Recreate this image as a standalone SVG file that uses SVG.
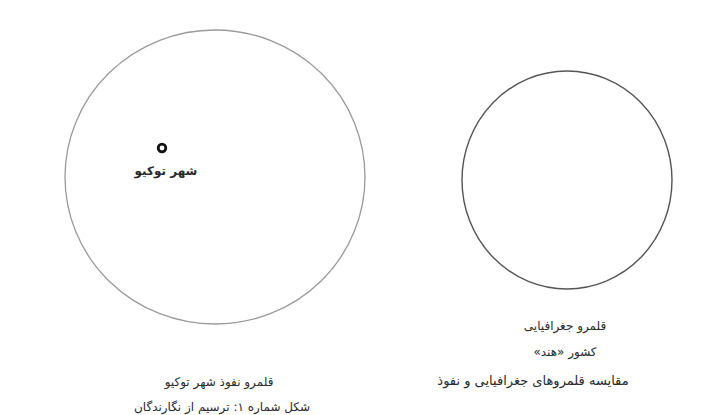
<svg xmlns="http://www.w3.org/2000/svg" width="709" height="415" viewBox="0 0 709 415">
<style>
.t{font-family:"DejaVu Sans","Liberation Sans",sans-serif;font-size:12px;fill:#2a2a2a;text-anchor:middle;direction:rtl}
.c{fill:none}
</style>
<rect width="709" height="415" fill="#fff"/>
<g id="tokyo-region">
<ellipse class="c" cx="215" cy="177" rx="150" ry="147" stroke="#9a9a9a" stroke-width="1.3"/>
</g>
<g id="tokyo-city">
<circle class="c" cx="162" cy="148" r="3.8" stroke="#111" stroke-width="2.8"/>
<text class="t" x="166" y="175" font-weight="bold">شهر توکیو</text>
</g>
<g id="country-region">
<ellipse class="c" cx="567" cy="180" rx="105" ry="109" stroke="#555" stroke-width="1.4"/>
</g>
<g id="captions">
<text class="t" x="219" y="386">قلمرو نفوذ شهر توکیو</text>
<text class="t" x="222" y="411">شکل شماره ۱: ترسیم از نگارندگان</text>
<text class="t" x="565" y="330">قلمرو جغرافیایی</text>
<text class="t" x="565" y="356">کشور «هند»</text>
<text class="t" x="533" y="385" style="font-size:13px">مقایسه قلمروهای جغرافیایی و  نفوذ</text>
</g>
<g id="connectors"></g>
</svg>
